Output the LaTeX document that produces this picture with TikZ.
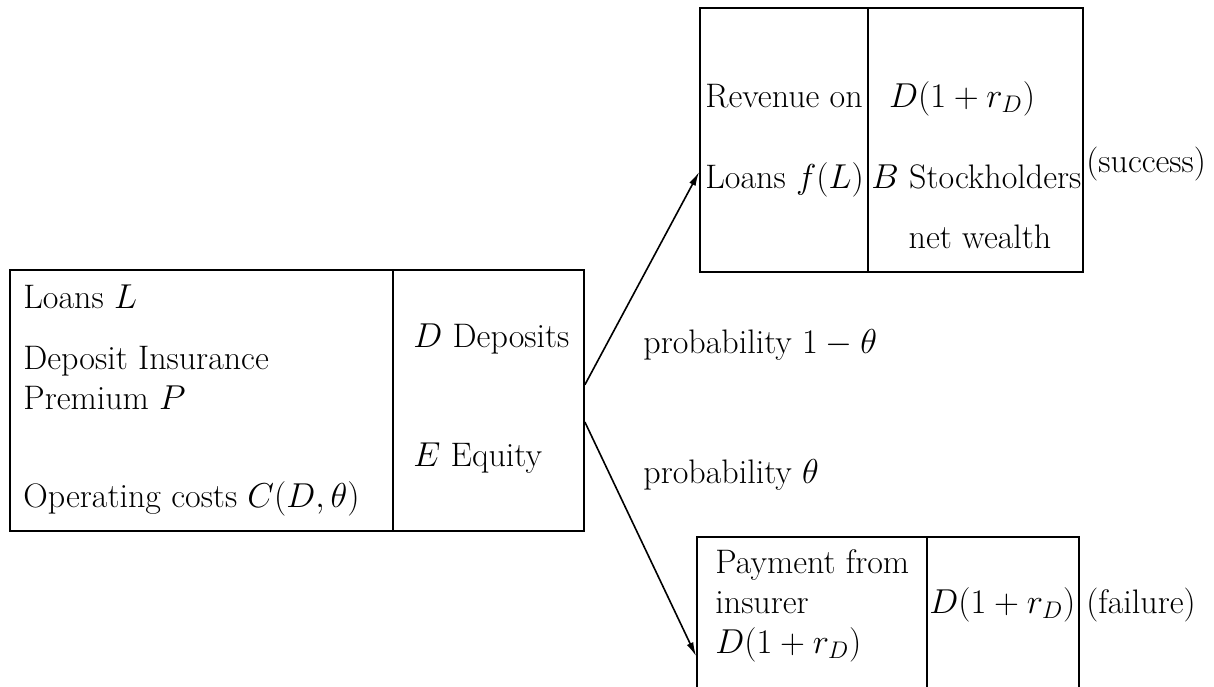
\documentclass[tikz,border=0pt]{standalone}
\usetikzlibrary{arrows.meta,calc}
\begin{document}
\begin{tikzpicture}[x=0.5pt,y=-0.5pt,
  cell/.style={draw,line width=0.9pt,inner sep=0pt,rectangle},
  txt/.style={anchor=base west,inner sep=0pt,font=\fontsize{17}{20.4}\selectfont},
  ctxt/.style={txt,anchor=base},
  conn/.style={line width=0.8pt,-{Latex[length=7pt,width=3.5pt]}}]
\clip (0,0) rectangle (1214,686);
% left (initial) balance sheet
\node[cell,minimum width=191.5pt,minimum height=130.5pt] (LL) at (201.5,400.5) {};
\node[cell,minimum width=95.5pt,minimum height=130.5pt] (LR) at (488.5,400.5) {};
% top (success) balance sheet
\node[cell,minimum width=84pt,minimum height=132pt] (TL) at (784,140) {};
\node[cell,minimum width=107.5pt,minimum height=132pt] (TR) at (975.5,140) {};
% bottom (failure) balance sheet
\node[cell,minimum width=115pt,minimum height=91.5pt] (BL) at (812,628.5) {};
\node[cell,minimum width=76pt,minimum height=91.5pt] (BR) at (1003,628.5) {};
% texts left box
\node[txt] (t1) at (23,308) {Loans $L$};
\node[txt] (t2) at (23,369) {Deposit Insurance};
\node[txt] (t3) at (23,409) {Premium $P$};
\node[txt] (t4) at (23,507) {Operating costs $C(D,\theta)$};
\node[txt] (t5) at (413,347) {$D$ Deposits};
\node[txt] (t6) at (413,466) {$E$ Equity};
% texts top box
\node[txt] (u1) at (705,107) {Revenue on};
\node[txt] (u2) at (705,188) {Loans $f(L)$};
\node[ctxt] (u3) at (962,107) {$D(1+r_D)$};
\node[txt] (u4) at (871,188) {$B$ Stockholders};
\node[ctxt] (u5) at (980,248) {net wealth};
\node[txt] (u6) at (1086,172) {(success)};
% texts bottom box
\node[txt] (v1) at (715,573) {Payment from};
\node[txt] (v2) at (715,613) {insurer};
\node[txt] (v3) at (715,653) {$D(1+r_D)$};
\node[txt] (v4) at (929,613) {$D(1+r_D)$};
\node[txt] (v5) at (1086,613) {(failure)};
% probabilities
\node[txt] (p1) at (643,353) {probability $1-\theta$};
\node[txt] (p2) at (643,483) {probability $\theta$};
% connectors
\draw[conn] ($(LR.north east)!0.44!(LR.south east)$) -- ($(TL.north west)!0.62!(TL.south west)$);
\draw[conn] ($(LR.north east)!0.582!(LR.south east)$) -- ($(BL.north west)!0.65!(BL.south west)$);
\end{tikzpicture}
\end{document}
